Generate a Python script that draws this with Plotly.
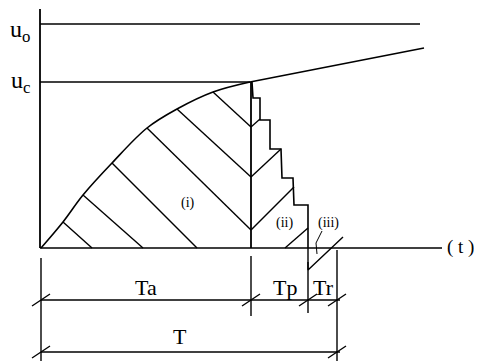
'''
Sketch of the charging / discharging time diagram (Ta, Tp, Tr)
'''

import plotly.graph_objects as go

# --- drawing data (diagram units, origin top-left) ---
axis_y_x = [40, 40]
axis_y_y = [9, 248]
axis_t_x = [40, 442]
axis_t_y = [248, 248]

u0_x = [40, 420]
u0_y = [24, 24]
uc_x = [40, 250]
uc_y = [82, 82]

# rise curve (charging up to uc)
curve_x = [41, 63, 83, 112, 147, 177, 213, 250]
curve_y = [248, 222, 195, 163, 128, 109, 92, 82]

# slow rise after uc
tail_x = [250, 424]
tail_y = [82, 48]

# vertical drop at end of Ta
drop_x = [251, 251]
drop_y = [82, 248]

# staircase discharge
stair_x = [252, 253, 260, 260, 270, 270, 281, 282, 293, 294, 308, 308]
stair_y = [82, 98, 98, 120, 120, 149, 149, 178, 178, 205, 205, 248]

# hatching of region (i)
hatch_i_x = [63, 92, None, 83, 143, None, 112, 197, None,
             147, 251, None, 177, 251, None, 213, 251]
hatch_i_y = [222, 248, None, 195, 248, None, 163, 248, None,
             128, 230, None, 109, 177, None, 92, 127]

# hatching of region (ii)
hatch_ii_x = [251, 260, None, 251, 281, None, 251, 294, None, 285, 308]
hatch_ii_y = [127, 119, None, 177, 149, None, 230, 187, None, 248, 228]

# region (iii) below the axis
tri_x = [308, 308, 343]
tri_y = [248, 270, 237]
leader_x = [322, 316, 317]
leader_y = [231, 243, 254]

# dimension extension lines
ext_x = [41, 41, None, 251, 251, None, 308, 308, None, 337, 337]
ext_y = [258, 361, None, 256, 316, None, 262, 313, None, 250, 361]

# dimension lines
dim1_x = [41, 340]
dim1_y = [300, 300]
dim2_x = [41, 340]
dim2_y = [352, 352]

# tick slashes at dimension ends
slash_cx = [41, 251, 308, 337, 41, 337]
slash_cy = [300, 300, 300, 300, 352, 352]

labels = ['Ta', 'Tp', 'Tr', 'T']
label_x = [146, 285, 323, 180]
label_y = [287, 287, 287, 336]

region_labels = ['(i)', '(ii)', '(iii)']
region_x = [188, 284, 328]
region_y = [203, 223, 223]

level_labels = ['u<sub>o</sub>', 'u<sub>c</sub>']
level_x = [20, 20]
level_y = [31, 82]

fig = go.Figure()


def add_line(x, y, width=1.5, shape='linear'):
    fig.add_trace(go.Scatter(
        x=x, y=y, mode='lines',
        line={'color': 'black', 'width': width, 'shape': shape},
        hoverinfo='skip', showlegend=False
    ))


add_line(axis_y_x, axis_y_y, 1.8)
add_line(axis_t_x, axis_t_y, 1.6)
add_line(u0_x, u0_y, 1.6)
add_line(uc_x, uc_y, 1.6)
add_line(curve_x, curve_y, 1.6, 'spline')
add_line(tail_x, tail_y, 1.6)
add_line(drop_x, drop_y, 1.8)
add_line(stair_x, stair_y, 1.6)
add_line(hatch_i_x, hatch_i_y, 1.4)
add_line(hatch_ii_x, hatch_ii_y, 1.4)
add_line(tri_x, tri_y, 1.4)
add_line(leader_x, leader_y, 1.0)
add_line(ext_x, ext_y, 1.4)
add_line(dim1_x, dim1_y, 1.4)
add_line(dim2_x, dim2_y, 1.4)

# Slashes: short diagonal through each dimension end
sx, sy = [], []
for cx, cy in zip(slash_cx, slash_cy):
    sx += [cx - 9, cx + 9, None]
    sy += [cy + 6, cy - 6, None]
add_line(sx, sy, 1.4)

font = 'Liberation Serif, Times New Roman, serif'


def add_texts(xs, ys, texts, size):
    for x, y, t in zip(xs, ys, texts):
        fig.add_annotation(
            x=x, y=y, xref='x', yref='y', text=t, showarrow=False,
            font={'family': font, 'size': size, 'color': 'black'},
            xanchor='center', yanchor='middle'
        )


add_texts(label_x, label_y, labels, 22)
add_texts(region_x, region_y, region_labels, 14)
add_texts(level_x, level_y, level_labels, 24)
add_texts([460], [247], ['( t )'], 19)

# The page body has an 8px margin, so the plot starts at 8px;
# shrink the figure and start the ranges at 8 to keep the picture in place
fig.update_layout(
    width=474, height=353,
    margin={'l': 0, 'r': 0, 't': 0, 'b': 0},
    paper_bgcolor='white', plot_bgcolor='white',
    xaxis=dict(range=[8, 482], visible=False, fixedrange=True),
    yaxis=dict(range=[361, 8], visible=False, fixedrange=True),
)

fig.write_html("out.html")
